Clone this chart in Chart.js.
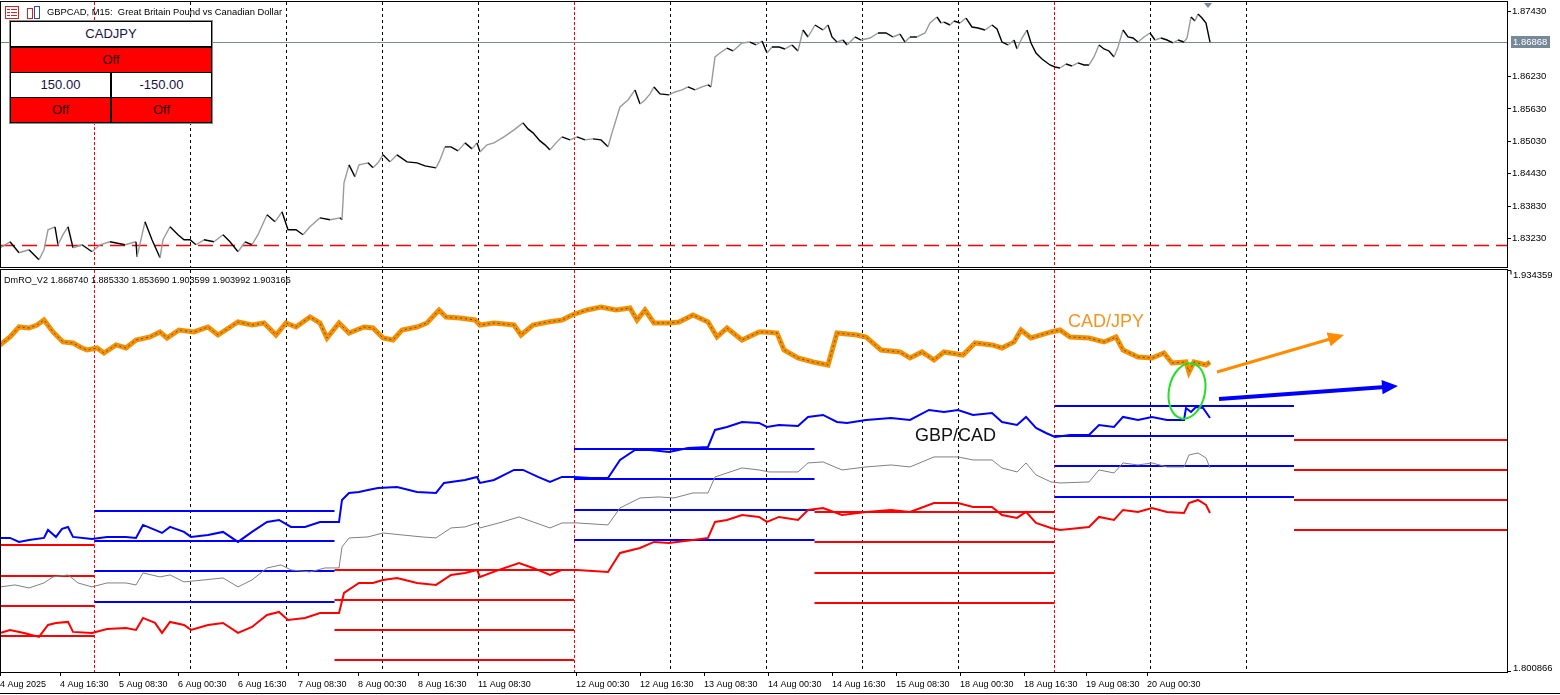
<!DOCTYPE html>
<html lang="en">
<head>
<meta charset="UTF-8">
<title>GBPCAD M15 - DmRO_V2</title>
<script src="https://cdn.jsdelivr.net/npm/chart.js@4.4.1/dist/chart.umd.min.js"></script>
<style>
  body { margin:0; background:#fff; width:1560px; height:695px; overflow:hidden; position:relative; font-family:"Liberation Sans", Arial, sans-serif; }
  canvas { position:absolute; left:0; }
  #top { top:0; }
  #bottom { top:268px; }
  .panel { position:absolute; left:9px; top:20px; width:202px; height:102px; background:#000; border:1px solid #8c8c8c; }
  .cell { position:absolute; height:24px; line-height:24px; text-align:center; font-size:13px; }
  .w { background:#fff; color:#14124a; }
  .r { background:#ff0000; color:#2a0000; }
</style>
</head>
<body>
<canvas id="top" width="1560" height="268"></canvas>
<canvas id="bottom" width="1560" height="427"></canvas>

<div class="panel">
  <div class="cell w" style="left:1px;top:1px;width:200px;">CADJPY</div>
  <div class="cell r" style="left:1px;top:27px;width:200px;">Off</div>
  <div class="cell w" style="left:1px;top:52px;width:99px;">150.00</div>
  <div class="cell w" style="left:102px;top:52px;width:99px;">-150.00</div>
  <div class="cell r" style="left:1px;top:77px;width:99px;">Off</div>
  <div class="cell r" style="left:102px;top:77px;width:99px;">Off</div>
</div>

<script>
// ---------- data ----------
// x runs in bar-pixel units (0..1507) like the terminal window
const timeTickX = [0, 60, 119, 178, 238, 298, 358, 418, 478, 576, 640, 704, 768, 832, 896, 960, 1024, 1086, 1147];
const timeTickLabels = ['4 Aug 2025', '4 Aug 16:30', '5 Aug 08:30', '6 Aug 00:30', '6 Aug 16:30', '7 Aug 08:30',
  '8 Aug 00:30', '8 Aug 16:30', '11 Aug 08:30', '12 Aug 00:30', '12 Aug 16:30', '13 Aug 08:30', '14 Aug 00:30',
  '14 Aug 16:30', '15 Aug 08:30', '18 Aug 00:30', '18 Aug 16:30', '19 Aug 08:30', '20 Aug 00:30'];
const daySepX = [190.5, 286.5, 382.5, 478.5, 670.5, 766.5, 862.5, 958.5, 1150.5, 1246.5];
const periodSepX = [94.5, 574.5, 1054.5];

const priceTicks = [1.87430, 1.86230, 1.85630, 1.85030, 1.84430, 1.83830, 1.83230];
const priceMin = 1.82702;
const priceMax = 1.87610;
const lastPrice = 1.86868;
const alertLevel = 1.83105;

const gbpcad = [[0,1.83058],[10,1.83169],[19,1.82966],[29,1.83021],[39,1.82836],[44,1.83021],[48,1.83391],[55,1.83447],
  [58,1.83114],[63,1.83300],[68,1.83447],[73,1.83058],[82,1.83114],[92,1.82984],[100,1.83114],[110,1.83169],[125,1.83114],
  [136,1.83169],[137,1.82891],[145,1.83539],[152,1.83206],[160,1.82873],[163,1.83206],[170,1.83447],[178,1.83300],
  [184,1.83206],[190,1.83206],[196,1.83114],[204,1.83206],[214,1.83169],[223,1.83299],[230,1.83169],[238,1.82984],
  [245,1.83169],[252,1.83114],[258,1.83300],[267,1.83669],[275,1.83539],[282,1.83724],[288,1.83391],[296,1.83391],
  [303,1.83300],[310,1.83447],[320,1.83613],[330,1.83576],[340,1.83613],[342,1.83576],[344,1.84261],[349,1.84594],
  [355,1.84371],[359,1.84594],[368,1.84631],[373,1.84538],[378,1.84631],[383,1.84779],[390,1.84649],[397,1.84779],
  [407,1.84649],[417,1.84631],[425,1.84575],[436,1.84538],[440,1.84686],[445,1.84927],[451,1.84927],[458,1.84853],
  [465,1.85001],[472,1.84890],[477,1.85001],[480,1.84834],[487,1.84964],[494,1.85001],[504,1.85112],[514,1.85241],
  [523,1.85371],[528,1.85260],[533,1.85186],[540,1.85038],[545,1.84964],[550,1.84871],[556,1.85001],[562,1.85112],
  [570,1.85056],[577,1.85112],[585,1.85056],[593,1.85075],[601,1.85056],[606,1.84964],[608,1.84927],[612,1.85186],
  [620,1.85667],[628,1.85796],[635,1.85981],[640,1.85722],[645,1.85796],[650,1.85907],[654,1.86037],[660,1.85907],
  [669,1.85889],[675,1.85944],[682,1.85981],[688,1.86037],[695,1.85981],[702,1.86037],[708,1.86074],[711,1.86037],
  [715,1.86592],[720,1.86666],[727,1.86758],[733,1.86703],[742,1.86851],[750,1.86869],[756,1.86814],[762,1.86888],
  [767,1.86666],[772,1.86777],[779,1.86777],[785,1.86740],[792,1.86814],[798,1.86703],[803,1.87091],[808,1.86962],
  [815,1.87184],[823,1.87091],[828,1.87184],[832,1.86962],[837,1.86869],[843,1.86906],[847,1.86814],[855,1.86962],
  [861,1.86906],[870,1.86943],[878,1.87036],[886,1.87036],[893,1.86962],[900,1.87017],[905,1.86869],[910,1.86962],
  [917,1.86962],[925,1.87036],[930,1.87221],[937,1.87332],[941,1.87221],[944,1.87239],[950,1.87184],[954,1.87258],
  [960,1.87221],[966,1.87313],[972,1.87147],[978,1.87128],[985,1.87091],[992,1.87184],[997,1.87110],[1002,1.86869],
  [1008,1.86814],[1014,1.86906],[1017,1.86740],[1022,1.86943],[1027,1.87091],[1031,1.86851],[1036,1.86666],
  [1042,1.86555],[1050,1.86444],[1055,1.86407],[1060,1.86388],[1066,1.86462],[1072,1.86425],[1078,1.86481],
  [1084,1.86444],[1089,1.86444],[1094,1.86592],[1099,1.86814],[1104,1.86740],[1109,1.86703],[1114,1.86592],
  [1118,1.86777],[1123,1.87091],[1128,1.86962],[1133,1.86943],[1138,1.86869],[1144,1.86962],[1150,1.87036],
  [1155,1.86906],[1161,1.86943],[1167,1.86906],[1173,1.86851],[1178,1.86906],[1184,1.86869],[1187,1.86943],
  [1191,1.87332],[1195,1.87258],[1198,1.87387],[1202,1.87313],[1206,1.87221],[1210,1.86868]];

const oscMin = 1.800866;
const oscMax = 1.934359;
const oscValues = [1.868740, 1.885330, 1.853690, 1.903599, 1.903992, 1.903166];

const cadjpyLine = [[0,1.90946],[10,1.91212],[19,1.91544],[29,1.91510],[37,1.91610],[44,1.91776],[53,1.91378],[63,1.91046],
  [73,1.91012],[80,1.90880],[87,1.90780],[97,1.90846],[104,1.90680],[116,1.90946],[126,1.90846],[136,1.91112],[150,1.91212],
  [160,1.91378],[167,1.91178],[179,1.91444],[194,1.91378],[208,1.91544],[218,1.91278],[238,1.91710],[252,1.91610],
  [264,1.91676],[276,1.91278],[286,1.91676],[296,1.91544],[310,1.91876],[320,1.91676],[327,1.91178],[339,1.91676],
  [349,1.91344],[364,1.91544],[373,1.91510],[383,1.91178],[393,1.91112],[402,1.91444],[417,1.91544],[427,1.91676],
  [439,1.92108],[446,1.91876],[460,1.91842],[475,1.91776],[480,1.91610],[494,1.91676],[514,1.91610],[521,1.91278],
  [533,1.91610],[548,1.91710],[562,1.91776],[572,1.91942],[587,1.92108],[601,1.92208],[616,1.92108],[630,1.92174],
  [637,1.91776],[645,1.92108],[654,1.91676],[669,1.91676],[679,1.91710],[693,1.91942],[708,1.91710],[717,1.91212],
  [727,1.91510],[742,1.91112],[759,1.91378],[765,1.91378],[777,1.91344],[784,1.90780],[798,1.90514],[813,1.90382],
  [828,1.90282],[837,1.91344],[857,1.91278],[866,1.91212],[881,1.90780],[900,1.90714],[910,1.90514],[922,1.90714],
  [934,1.90448],[944,1.90714],[963,1.90614],[975,1.91012],[992,1.90946],[1002,1.90846],[1014,1.91046],[1021,1.91444],
  [1031,1.91178],[1051,1.91378],[1060,1.91444],[1070,1.91212],[1089,1.91178],[1104,1.91046],[1116,1.91212],
  [1123,1.90780],[1138,1.90548],[1152,1.90514],[1164,1.90680],[1172,1.90348],[1186,1.90382],[1189,1.90050],
  [1194,1.90382],[1206,1.90282],[1210,1.90382]];

const upperLine = [[0,1.84538],[10,1.84538],[19,1.84406],[29,1.84472],[44,1.84538],[48,1.84804],[56,1.84572],[62,1.84838],
  [68,1.84904],[73,1.84572],[92,1.84505],[107,1.84572],[126,1.84572],[136,1.84538],[143,1.84970],[155,1.84804],[162,1.84704],
  [170,1.84904],[184,1.84738],[191,1.84572],[208,1.84638],[223,1.84738],[238,1.84406],[252,1.84738],[267,1.85070],
  [279,1.85136],[291,1.84904],[305,1.84904],[320,1.85070],[339,1.85070],[342,1.85800],[349,1.86032],[359,1.86066],
  [368,1.86132],[378,1.86198],[397,1.86232],[417,1.86066],[436,1.86032],[444,1.86364],[465,1.86464],[477,1.86564],
  [480,1.86364],[494,1.86464],[514,1.86796],[523,1.86796],[538,1.86564],[550,1.86398],[562,1.86564],[574,1.86564],
  [591,1.86530],[608,1.86530],[620,1.87128],[635,1.87460],[650,1.87460],[669,1.87394],[688,1.87526],[708,1.87560],
  [715,1.88124],[727,1.88224],[742,1.88390],[759,1.88356],[767,1.88224],[779,1.88290],[798,1.88257],[808,1.88556],
  [823,1.88622],[837,1.88390],[847,1.88356],[866,1.88456],[891,1.88522],[910,1.88456],[929,1.88788],[944,1.88722],
  [958,1.88788],[973,1.88622],[992,1.88688],[1002,1.88390],[1017,1.88290],[1026,1.88556],[1036,1.88190],[1046,1.88024],
  [1055,1.87892],[1070,1.87958],[1089,1.87958],[1099,1.88290],[1114,1.88224],[1123,1.88556],[1138,1.88456],
  [1152,1.88556],[1167,1.88456],[1184,1.88456],[1186,1.88854],[1191,1.88722],[1196,1.88888],[1203,1.88854],[1210,1.88522]];

const midLine = [[0,1.82912],[15,1.82978],[29,1.82878],[44,1.83044],[53,1.83244],[68,1.83310],[78,1.83044],[92,1.82912],
  [107,1.83044],[126,1.83044],[136,1.82978],[143,1.83376],[160,1.83244],[170,1.83310],[184,1.83078],[204,1.83144],
  [223,1.83210],[238,1.82912],[252,1.83144],[267,1.83542],[281,1.83642],[291,1.83476],[310,1.83410],[325,1.83542],
  [339,1.83542],[342,1.84240],[349,1.84538],[368,1.84572],[383,1.84704],[402,1.84638],[422,1.84572],[436,1.84538],
  [451,1.84870],[465,1.84904],[477,1.85036],[480,1.84870],[499,1.85036],[519,1.85236],[533,1.85070],[550,1.84870],
  [562,1.85036],[577,1.85036],[608,1.84970],[620,1.85534],[640,1.85866],[659,1.85900],[674,1.85866],[693,1.86032],
  [708,1.86032],[715,1.86564],[727,1.86696],[742,1.86862],[759,1.86796],[769,1.86730],[798,1.86730],[808,1.87028],
  [823,1.87062],[842,1.86796],[866,1.86896],[891,1.86962],[910,1.86896],[934,1.87228],[958,1.87228],[973,1.87128],
  [992,1.87128],[1002,1.86862],[1017,1.86730],[1026,1.87028],[1036,1.86630],[1051,1.86398],[1060,1.86364],
  [1089,1.86398],[1099,1.86796],[1114,1.86696],[1123,1.87028],[1138,1.86962],[1152,1.87028],[1167,1.86896],
  [1184,1.86896],[1189,1.87294],[1198,1.87360],[1206,1.87194],[1210,1.86862]];

const lowerLine = [[0,1.81384],[10,1.81484],[24,1.81384],[39,1.81252],[48,1.81650],[56,1.81716],[68,1.81750],[73,1.81418],
  [92,1.81384],[107,1.81517],[126,1.81550],[136,1.81484],[143,1.81882],[155,1.81716],[162,1.81384],[170,1.81750],
  [184,1.81650],[191,1.81484],[208,1.81650],[223,1.81716],[238,1.81384],[252,1.81584],[267,1.81982],[279,1.82082],
  [288,1.81816],[305,1.81882],[320,1.82048],[339,1.82048],[344,1.82712],[359,1.83044],[373,1.83044],[383,1.83144],
  [397,1.83210],[417,1.83044],[436,1.82978],[451,1.83310],[465,1.83376],[477,1.83476],[480,1.83244],[499,1.83476],
  [519,1.83708],[533,1.83542],[550,1.83310],[562,1.83476],[577,1.83476],[608,1.83410],[620,1.84040],[640,1.84206],
  [654,1.84406],[669,1.84372],[693,1.84472],[708,1.84538],[715,1.85070],[727,1.85136],[742,1.85302],[759,1.85236],
  [767,1.85070],[779,1.85236],[798,1.85136],[808,1.85468],[823,1.85534],[842,1.85302],[866,1.85402],[891,1.85468],
  [910,1.85402],[934,1.85700],[958,1.85700],[973,1.85568],[992,1.85568],[1002,1.85302],[1017,1.85202],[1026,1.85402],
  [1036,1.85036],[1051,1.84870],[1060,1.84804],[1089,1.84904],[1099,1.85236],[1114,1.85136],[1123,1.85468],
  [1138,1.85402],[1152,1.85534],[1167,1.85402],[1184,1.85368],[1189,1.85700],[1198,1.85800],[1206,1.85634],[1210,1.85368]];

// level blocks: edges on x, four levels per block (blocks alternate low/high side)
const bandEdges = [0, 94.5, 334.5, 574, 814.5, 1054.5, 1294, 1507];
const bandLevels = [
  [1.84306, 1.83277, 1.82281, 1.81285],
  [1.85435, 1.84439, 1.83443, 1.82414],
  [1.83476, 1.82480, 1.81484, 1.80488],
  [1.87493, 1.86497, 1.85468, 1.84472],
  [1.85402, 1.84406, 1.83376, 1.82380],
  [1.88921, 1.87925, 1.86929, 1.85900],
  [1.87792, 1.86796, 1.85800, 1.84804]
];

// hand-drawn marks on the indicator window
const arrowOrange = [1217, 1.90050, 1344, 1.91278];
const arrowBlue = [1219, 1.89153, 1398, 1.89585];
const ringMark = [1187, 1.89419, 18, 0.0093];
const noteTexts = ['CAD/JPY', 'GBP/CAD'];
const notePos = [[1068, 1.91544], [915, 1.87759]];

// ---------- helpers ----------
Chart.defaults.font.family = "'Liberation Sans', Arial, sans-serif";
const toXY = pts => pts.map(p => ({ x: p[0], y: p[1] }));

function vline(ctx, px, top, bottom, color, dash) {
  const x = Math.floor(px) + 0.5;
  ctx.save();
  ctx.strokeStyle = color;
  ctx.lineWidth = 1;
  ctx.setLineDash(dash);
  ctx.beginPath();
  ctx.moveTo(x, top);
  ctx.lineTo(x, bottom);
  ctx.stroke();
  ctx.restore();
}

const separators = {
  id: 'separators',
  beforeDatasetsDraw(chart) {
    const { ctx, chartArea: a, scales: { x } } = chart;
    daySepX.forEach(v => vline(ctx, x.getPixelForValue(v), a.top, a.bottom, '#000', [3, 3]));
    periodSepX.forEach(v => vline(ctx, x.getPixelForValue(v), a.top, a.bottom, '#ff0000', [3, 2]));
  }
};

function frame(ctx, a) {
  ctx.save();
  ctx.strokeStyle = '#000';
  ctx.lineWidth = 1;
  ctx.setLineDash([]);
  ctx.strokeRect(a.left + 0.5, a.top - 0.5, a.right - a.left, a.bottom - a.top + 1);
  ctx.restore();
}

function arrow(ctx, x0, y0, x1, y1, color, w, head) {
  const ang = Math.atan2(y1 - y0, x1 - x0);
  ctx.save();
  ctx.strokeStyle = color;
  ctx.fillStyle = color;
  ctx.lineWidth = w;
  ctx.beginPath();
  ctx.moveTo(x0, y0);
  ctx.lineTo(x1 - Math.cos(ang) * head * 0.8, y1 - Math.sin(ang) * head * 0.8);
  ctx.stroke();
  ctx.translate(x1, y1);
  ctx.rotate(ang);
  ctx.beginPath();
  ctx.moveTo(0, 0);
  ctx.lineTo(-head, -head * 0.45);
  ctx.lineTo(-head, head * 0.45);
  ctx.closePath();
  ctx.fill();
  ctx.restore();
}

// ---------- price window ----------
const priceDecor = {
  id: 'priceDecor',
  beforeDatasetsDraw(chart) {
    const { ctx, chartArea: a, scales: { y } } = chart;
    ctx.save();
    // alert level
    const ya = Math.round(y.getPixelForValue(alertLevel)) + 0.5;
    ctx.strokeStyle = '#ff0000';
    ctx.lineWidth = 1.5;
    ctx.setLineDash([15, 7]);
    ctx.beginPath(); ctx.moveTo(a.left, ya); ctx.lineTo(a.right, ya); ctx.stroke();
    // bid line
    const yb = Math.round(y.getPixelForValue(lastPrice)) + 0.5;
    ctx.strokeStyle = '#778899';
    ctx.lineWidth = 1;
    ctx.setLineDash([]);
    ctx.beginPath(); ctx.moveTo(a.left, yb); ctx.lineTo(a.right, yb); ctx.stroke();
    ctx.restore();
  },
  afterDraw(chart) {
    const { ctx, chartArea: a, scales: { x, y } } = chart;
    frame(ctx, a);
    ctx.save();
    // bid price label on the axis
    const yb = Math.round(y.getPixelForValue(lastPrice));
    ctx.fillStyle = '#778899';
    ctx.fillRect(a.right + 4, yb - 6, 39, 12);
    ctx.fillStyle = '#fff';
    ctx.font = "9.5px 'Liberation Sans', Arial";
    ctx.textBaseline = 'middle';
    ctx.fillText(lastPrice.toFixed(5), a.right + 6, yb + 0.5);
    // last bar marker
    const xm = x.getPixelForValue(gbpcad[gbpcad.length - 1][0]) - 2;
    ctx.fillStyle = '#778899';
    ctx.beginPath();
    ctx.moveTo(xm - 4, a.top + 1); ctx.lineTo(xm + 4, a.top + 1); ctx.lineTo(xm, a.top + 6); ctx.closePath();
    ctx.fill();
    // window icons
    ctx.strokeStyle = '#d42020';
    ctx.lineWidth = 1;
    ctx.strokeRect(5.5, 6.5, 13, 12);
    ctx.beginPath();
    [9.5, 12.5, 15.5].forEach(v => { ctx.moveTo(7, v); ctx.lineTo(10, v); ctx.moveTo(11, v); ctx.lineTo(17, v); });
    ctx.stroke();
    ctx.strokeRect(27.5, 8.5, 5, 10);
    ctx.strokeStyle = '#2050c0';
    ctx.strokeRect(34.5, 6.5, 5, 12);
    // title
    ctx.fillStyle = '#000';
    ctx.font = "9.4px 'Liberation Sans', Arial";
    ctx.textBaseline = 'middle';
    ctx.fillText('GBPCAD, M15:  Great Britain Pound vs Canadian Dollar', 47, 12);
    ctx.restore();
  }
};

new Chart(document.getElementById('top'), {
  type: 'line',
  data: {
    datasets: [{
      data: toXY(gbpcad),
      borderColor: '#000',
      borderWidth: 1.4,
      pointRadius: 0,
      tension: 0,
      segment: { borderColor: c => (c.p1.parsed.y > c.p0.parsed.y ? '#9a9a9a' : '#000') }
    }]
  },
  options: {
    responsive: false,
    animation: false,
    events: [],
    layout: { padding: { top: 2, bottom: 1, left: 0, right: 0 } },
    plugins: { legend: { display: false }, tooltip: { enabled: false } },
    scales: {
      x: { type: 'linear', min: 0, max: 1507, display: false },
      y: {
        position: 'right',
        min: priceMin,
        max: priceMax,
        afterFit: s => { s.width = 53; s.paddingTop = 0; s.paddingBottom = 0; },
        afterBuildTicks: s => { s.ticks = priceTicks.map(v => ({ value: v })); },
        ticks: { autoSkip: false, color: '#000', padding: 1, font: { size: 9.5 }, callback: v => v.toFixed(5) },
        grid: { drawOnChartArea: false, tickLength: 4, color: '#000' },
        border: { color: '#000' }
      }
    }
  },
  plugins: [separators, priceDecor]
});

// ---------- indicator window ----------
const oscDecor = {
  id: 'oscDecor',
  afterDatasetsDraw(chart) {
    const { ctx, scales: { x, y } } = chart;
    ctx.save();
    arrow(ctx, x.getPixelForValue(arrowOrange[0]), y.getPixelForValue(arrowOrange[1]),
      x.getPixelForValue(arrowOrange[2]), y.getPixelForValue(arrowOrange[3]), '#ff8c00', 3, 16);
    arrow(ctx, x.getPixelForValue(arrowBlue[0]), y.getPixelForValue(arrowBlue[1]),
      x.getPixelForValue(arrowBlue[2]), y.getPixelForValue(arrowBlue[3]), '#0000ff', 4, 16);
    // ring
    const cx = x.getPixelForValue(ringMark[0]);
    const cy = y.getPixelForValue(ringMark[1]);
    const rx = x.getPixelForValue(ringMark[0] + ringMark[2]) - cx;
    const ry = y.getPixelForValue(ringMark[1] - ringMark[3]) - cy;
    ctx.strokeStyle = '#22e022';
    ctx.lineWidth = 2;
    ctx.beginPath();
    ctx.ellipse(cx, cy, rx, ry, 0.2, 0, Math.PI * 2);
    ctx.stroke();
    // notes
    ctx.font = "18px 'Liberation Sans', Arial";
    ctx.textBaseline = 'alphabetic';
    ctx.fillStyle = '#f7941d';
    ctx.fillText(noteTexts[0], x.getPixelForValue(notePos[0][0]), y.getPixelForValue(notePos[0][1]));
    ctx.fillStyle = '#111';
    ctx.fillText(noteTexts[1], x.getPixelForValue(notePos[1][0]), y.getPixelForValue(notePos[1][1]));
    ctx.restore();
  },
  afterDraw(chart) {
    const { ctx, chartArea: a, scales: { y } } = chart;
    frame(ctx, a);
    ctx.save();
    ctx.fillStyle = '#000';
    ctx.strokeStyle = '#000';
    ctx.font = "9.1px 'Liberation Sans', Arial";
    ctx.textBaseline = 'middle';
    ctx.fillText('DmRO_V2 ' + oscValues.map(v => v.toFixed(6)).join(' '), 4, a.top + 10);
    // axis end labels
    ctx.font = "9.5px 'Liberation Sans', Arial";
    const yt = Math.round(y.getPixelForValue(oscMax)) + 0.5;
    const ybt = Math.round(y.getPixelForValue(oscMin)) - 0.5;
    ctx.beginPath();
    ctx.moveTo(a.right, yt); ctx.lineTo(a.right + 4, yt); ctx.lineTo(a.right + 4, yt + 4);
    ctx.moveTo(a.right, ybt); ctx.lineTo(a.right + 4, ybt);
    ctx.stroke();
    ctx.fillText(oscMax.toFixed(6), a.right + 6, yt + 5);
    ctx.fillText(oscMin.toFixed(6), a.right + 6, ybt - 3);
    // window bottom edge
    ctx.beginPath();
    ctx.moveTo(0, chart.height - 1.5); ctx.lineTo(chart.width, chart.height - 1.5);
    ctx.stroke();
    ctx.restore();
  }
};

const oscDatasets = [];
bandLevels.forEach((lv, i) => {
  lv.forEach(v => {
    oscDatasets.push({
      data: [{ x: bandEdges[i], y: v }, { x: bandEdges[i + 1], y: v }],
      borderColor: i % 2 === 0 ? '#ff0000' : '#0000ff',
      borderWidth: 2, pointRadius: 0, order: 6
    });
  });
});
oscDatasets.push(
  { data: toXY(midLine), borderColor: '#808080', borderWidth: 1, pointRadius: 0, order: 5 },
  { data: toXY(lowerLine), borderColor: '#ff0000', borderWidth: 2, pointRadius: 0, order: 4 },
  { data: toXY(upperLine), borderColor: '#0000ff', borderWidth: 2, pointRadius: 0, order: 3 },
  { data: toXY(cadjpyLine), borderColor: '#ff8c00', borderWidth: 5, pointRadius: 0, order: 2 },
  { data: toXY(cadjpyLine), borderColor: '#008000', borderWidth: 1, borderDash: [2, 3], pointRadius: 0, order: 1 }
);

new Chart(document.getElementById('bottom'), {
  type: 'line',
  data: { datasets: oscDatasets },
  options: {
    responsive: false,
    animation: false,
    events: [],
    layout: { padding: { top: 2, bottom: 0, left: 0, right: 0 } },
    plugins: { legend: { display: false }, tooltip: { enabled: false } },
    scales: {
      x: {
        type: 'linear', min: 0, max: 1507,
        afterBuildTicks: s => { s.ticks = timeTickX.map(v => ({ value: v })); },
        afterFit: s => { s.height = 23; s.paddingLeft = 0; s.paddingRight = 0; },
        ticks: { autoSkip: false, maxRotation: 0, align: 'start', color: '#000', padding: 3,
          font: { size: 9 }, callback: (v, i) => timeTickLabels[i] },
        grid: { drawOnChartArea: false, tickLength: 4, color: '#000' },
        border: { color: '#000' }
      },
      y: {
        position: 'right', min: oscMin, max: oscMax,
        afterFit: s => { s.width = 53; s.paddingTop = 0; s.paddingBottom = 0; },
        ticks: { display: false },
        grid: { display: false },
        border: { color: '#000' }
      }
    }
  },
  plugins: [separators, oscDecor]
});
</script>
</body>
</html>
